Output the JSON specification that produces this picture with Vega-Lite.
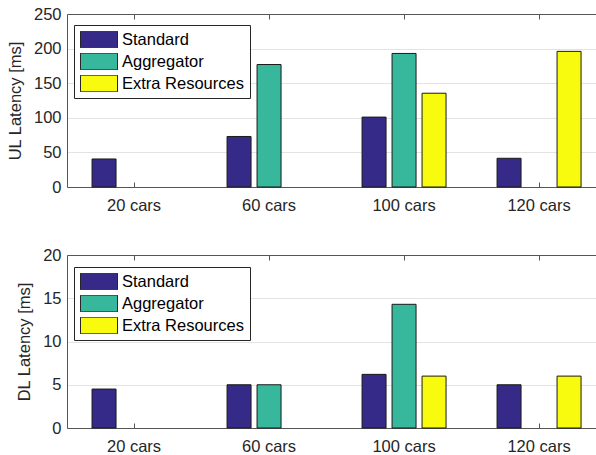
{
  "$schema": "https://vega.github.io/schema/vega-lite/v6.json",
  "autosize": {"type": "pad"},
  "padding": {"left": 7, "top": 6, "right": 0, "bottom": 0},
  "background": "white",
  "config": {
    "font": "Liberation Sans",
    "view": {"stroke": null},
    "axis": {
      "labelFontSize": 16.5,
      "labelColor": "#262626",
      "titleFontSize": 16.5,
      "titleColor": "#262626",
      "titleFontWeight": "normal",
      "domainColor": "#555555",
      "tickColor": "#555555",
      "gridColor": "#e3e3e3"
    }
  },
  "datasets": {
    "lat": [
      {"dir": "UL", "cars": "20 cars", "series": "Standard", "value": 40.5},
      {"dir": "UL", "cars": "20 cars", "series": "Aggregator", "value": 0},
      {"dir": "UL", "cars": "20 cars", "series": "Extra Resources", "value": 0},
      {"dir": "UL", "cars": "60 cars", "series": "Standard", "value": 73},
      {"dir": "UL", "cars": "60 cars", "series": "Aggregator", "value": 177},
      {"dir": "UL", "cars": "60 cars", "series": "Extra Resources", "value": 0},
      {"dir": "UL", "cars": "100 cars", "series": "Standard", "value": 101},
      {"dir": "UL", "cars": "100 cars", "series": "Aggregator", "value": 193},
      {"dir": "UL", "cars": "100 cars", "series": "Extra Resources", "value": 135.5},
      {"dir": "UL", "cars": "120 cars", "series": "Standard", "value": 41.5},
      {"dir": "UL", "cars": "120 cars", "series": "Aggregator", "value": 0},
      {"dir": "UL", "cars": "120 cars", "series": "Extra Resources", "value": 196},
      {"dir": "DL", "cars": "20 cars", "series": "Standard", "value": 4.5},
      {"dir": "DL", "cars": "20 cars", "series": "Aggregator", "value": 0},
      {"dir": "DL", "cars": "20 cars", "series": "Extra Resources", "value": 0},
      {"dir": "DL", "cars": "60 cars", "series": "Standard", "value": 5},
      {"dir": "DL", "cars": "60 cars", "series": "Aggregator", "value": 5},
      {"dir": "DL", "cars": "60 cars", "series": "Extra Resources", "value": 0},
      {"dir": "DL", "cars": "100 cars", "series": "Standard", "value": 6.2},
      {"dir": "DL", "cars": "100 cars", "series": "Aggregator", "value": 14.3},
      {"dir": "DL", "cars": "100 cars", "series": "Extra Resources", "value": 6},
      {"dir": "DL", "cars": "120 cars", "series": "Standard", "value": 5},
      {"dir": "DL", "cars": "120 cars", "series": "Aggregator", "value": 0},
      {"dir": "DL", "cars": "120 cars", "series": "Extra Resources", "value": 6}
    ]
  },
  "spacing": 68,
  "bounds": "flush",
  "resolve": {"legend": {"color": "independent"}},
  "vconcat": [
    {
      "width": 530,
      "height": 173,
      "data": {"name": "lat"},
      "transform": [{"filter": "datum.dir == 'UL'"}],
      "layer": [
        {
          "transform": [{"filter": "datum.value > 0"}],
          "mark": {"type": "bar", "stroke": "#1a1a1a", "strokeWidth": 1},
          "encoding": {
            "x": {
              "field": "cars", "type": "nominal",
              "sort": ["20 cars", "60 cars", "100 cars", "120 cars"],
              "scale": {"paddingInner": 0.33333, "paddingOuter": 0.1296, "align": 0.63},
              "axis": {"orient": "bottom", "title": null, "labelAngle": 0, "tickSize": -5, "labelPadding": 15, "grid": false}
            },
            "xOffset": {
              "field": "series", "type": "nominal",
              "sort": ["Standard", "Aggregator", "Extra Resources"],
              "scale": {"domain": ["Standard", "Aggregator", "Extra Resources"], "paddingInner": 0.2, "paddingOuter": 0.1}
            },
            "y": {
              "field": "value", "type": "quantitative",
              "scale": {"domain": [0, 250], "nice": false},
              "axis": {"title": "UL Latency [ms]", "values": [0, 50, 100, 150, 200, 250], "ticks": false, "labelPadding": 6, "titlePadding": 10, "grid": true}
            },
            "color": {
              "field": "series", "type": "nominal",
              "scale": {"domain": ["Standard", "Aggregator", "Extra Resources"], "range": ["#352a87", "#37b89d", "#f9fb0e"]},
              "legend": {
                "title": null, "orient": "none", "legendX": 7, "legendY": 11,
                "symbolType": "M-1,-0.45H1V0.45H-1Z", "symbolSize": 1369, "clipHeight": 17,
                "rowPadding": 5, "labelOffset": 4, "labelFontSize": 16.5, "labelColor": "#000000",
                "labelLimit": 300, "padding": 6, "strokeColor": "#262626", "fillColor": "white",
                "symbolStrokeColor": "#262626", "symbolStrokeWidth": 1, "symbolOpacity": 1
              }
            }
          }
        },
        {
          "mark": {"type": "bar", "opacity": 0},
          "encoding": {
            "x": {
              "field": "cars", "type": "nominal",
              "sort": ["20 cars", "60 cars", "100 cars", "120 cars"],
              "axis": {"orient": "top", "title": null, "labels": false, "tickSize": -5, "grid": false}
            }
          }
        }
      ],
      "resolve": {"axis": {"x": "independent"}}
    },
    {
      "width": 530,
      "height": 173,
      "data": {"name": "lat"},
      "transform": [{"filter": "datum.dir == 'DL'"}],
      "layer": [
        {
          "transform": [{"filter": "datum.value > 0"}],
          "mark": {"type": "bar", "stroke": "#1a1a1a", "strokeWidth": 1},
          "encoding": {
            "x": {
              "field": "cars", "type": "nominal",
              "sort": ["20 cars", "60 cars", "100 cars", "120 cars"],
              "scale": {"paddingInner": 0.33333, "paddingOuter": 0.1296, "align": 0.63},
              "axis": {"orient": "bottom", "title": null, "labelAngle": 0, "tickSize": -5, "labelPadding": 15, "grid": false}
            },
            "xOffset": {
              "field": "series", "type": "nominal",
              "sort": ["Standard", "Aggregator", "Extra Resources"],
              "scale": {"domain": ["Standard", "Aggregator", "Extra Resources"], "paddingInner": 0.2, "paddingOuter": 0.1}
            },
            "y": {
              "field": "value", "type": "quantitative",
              "scale": {"domain": [0, 20], "nice": false},
              "axis": {"title": "DL Latency [ms]", "values": [0, 5, 10, 15, 20], "ticks": false, "labelPadding": 6, "titlePadding": 10, "grid": true}
            },
            "color": {
              "field": "series", "type": "nominal",
              "scale": {"domain": ["Standard", "Aggregator", "Extra Resources"], "range": ["#352a87", "#37b89d", "#f9fb0e"]},
              "legend": {
                "title": null, "orient": "none", "legendX": 7, "legendY": 12,
                "symbolType": "M-1,-0.45H1V0.45H-1Z", "symbolSize": 1369, "clipHeight": 17,
                "rowPadding": 5, "labelOffset": 4, "labelFontSize": 16.5, "labelColor": "#000000",
                "labelLimit": 300, "padding": 6, "strokeColor": "#262626", "fillColor": "white",
                "symbolStrokeColor": "#262626", "symbolStrokeWidth": 1, "symbolOpacity": 1
              }
            }
          }
        },
        {
          "mark": {"type": "bar", "opacity": 0},
          "encoding": {
            "x": {
              "field": "cars", "type": "nominal",
              "sort": ["20 cars", "60 cars", "100 cars", "120 cars"],
              "axis": {"orient": "top", "title": null, "labels": false, "tickSize": -5, "grid": false}
            }
          }
        }
      ],
      "resolve": {"axis": {"x": "independent"}}
    }
  ]
}
